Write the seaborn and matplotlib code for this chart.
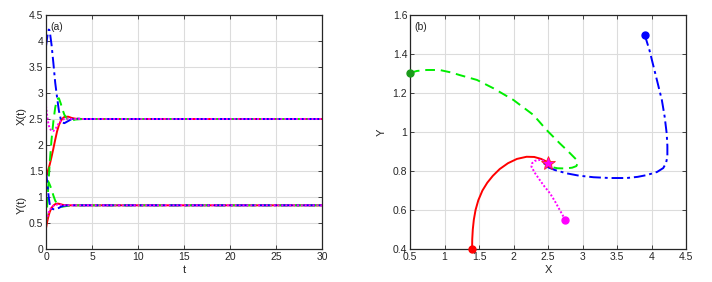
import numpy as np
import pandas as pd
import seaborn as sns
import matplotlib
matplotlib.use('Agg')
import matplotlib.pyplot as plt
import matplotlib.transforms as mtransforms

# ---------------- DATA ----------------
# time grid for panel (a)
t = [0, 0.1, 0.2, 0.3, 0.4, 0.6, 0.8, 1.0, 1.2, 1.4, 1.6, 1.8, 2.0, 2.4, 2.8, 3.2, 4, 6, 30]

# X(t) for the four initial conditions
x_red = [1.4, 1.43, 1.5, 1.56, 1.62, 1.77, 1.93, 2.1, 2.26, 2.38, 2.46, 2.51, 2.54, 2.545, 2.52, 2.505, 2.5, 2.5, 2.5]
x_green = [0.5, 0.75, 1.05, 1.35, 1.65, 2.1, 2.45, 2.72, 2.88, 2.9, 2.8, 2.68, 2.58, 2.48, 2.47, 2.49, 2.5, 2.5, 2.5]
x_blue = [3.9, 4.03, 4.15, 4.22, 4.2, 3.93, 3.58, 3.2, 2.92, 2.66, 2.5, 2.43, 2.42, 2.46, 2.5, 2.51, 2.5, 2.5, 2.5]
x_mag = [2.75, 2.6, 2.47, 2.38, 2.32, 2.27, 2.27, 2.3, 2.36, 2.42, 2.46, 2.49, 2.5, 2.51, 2.5, 2.5, 2.5, 2.5, 2.5]

# Y(t) for the four initial conditions
y_red = [0.4, 0.5, 0.58, 0.65, 0.71, 0.79, 0.835, 0.862, 0.873, 0.87, 0.86, 0.85, 0.845, 0.84, 0.84, 0.84, 0.84, 0.84, 0.84]
y_green = [1.3, 1.315, 1.31, 1.28, 1.24, 1.15, 1.03, 0.93, 0.87, 0.835, 0.818, 0.813, 0.82, 0.83, 0.838, 0.84, 0.84, 0.84, 0.84]
y_blue = [1.5, 1.33, 1.16, 0.99, 0.87, 0.78, 0.765, 0.765, 0.775, 0.79, 0.81, 0.825, 0.835, 0.84, 0.84, 0.84, 0.84, 0.84, 0.84]
y_mag = [0.55, 0.6, 0.655, 0.71, 0.75, 0.8, 0.83, 0.848, 0.855, 0.855, 0.85, 0.845, 0.842, 0.84, 0.84, 0.84, 0.84, 0.84, 0.84]

# phase trajectories for panel (b)
ph_red_x = [1.40, 1.402, 1.41, 1.425, 1.45, 1.49, 1.55, 1.62, 1.70, 1.80, 1.92, 2.05, 2.19, 2.30, 2.40, 2.47, 2.5]
ph_red_y = [0.40, 0.45, 0.50, 0.55, 0.60, 0.65, 0.70, 0.74, 0.775, 0.81, 0.84, 0.862, 0.873, 0.872, 0.862, 0.85, 0.84]
ph_green_x = [0.5, 0.6, 0.74, 0.93, 1.1, 1.22, 1.47, 1.71, 2.0, 2.29, 2.48, 2.67, 2.78, 2.87, 2.92, 2.93, 2.91, 2.85, 2.75, 2.64, 2.55, 2.5]
ph_green_y = [1.303, 1.313, 1.318, 1.318, 1.305, 1.292, 1.267, 1.224, 1.164, 1.087, 1.01, 0.942, 0.905, 0.873, 0.855, 0.839, 0.825, 0.817, 0.813, 0.814, 0.82, 0.84]
ph_blue_x = [3.9, 3.97, 4.03, 4.09, 4.15, 4.19, 4.22, 4.23, 4.23, 4.21, 4.17, 4.08, 3.93, 3.8, 3.64, 3.4, 3.16, 2.95, 2.77, 2.6, 2.48, 2.43, 2.46, 2.5]
ph_blue_y = [1.5, 1.42, 1.335, 1.25, 1.164, 1.08, 0.993, 0.93, 0.873, 0.84, 0.815, 0.795, 0.779, 0.77, 0.764, 0.764, 0.768, 0.776, 0.788, 0.805, 0.822, 0.833, 0.84, 0.84]
ph_mag_x = [2.75, 2.71, 2.67, 2.6, 2.53, 2.45, 2.38, 2.31, 2.26, 2.27, 2.31, 2.38, 2.45, 2.5]
ph_mag_y = [0.549, 0.575, 0.6, 0.645, 0.685, 0.72, 0.754, 0.79, 0.822, 0.84, 0.852, 0.857, 0.852, 0.84]

eq_x, eq_y = 2.5, 0.84

# ---------------- STYLE ----------------
sns.set_theme(style='whitegrid')
plt.rcParams['font.family'] = ['Liberation Sans', 'DejaVu Sans']

colors = {'red': '#ff0000', 'green': '#00ee00', 'blue': '#0000ff', 'mag': '#ff00ff'}
dashes = {'red': '-', 'green': (0, (5, 3)), 'blue': (0, (6, 2, 1.5, 2)), 'mag': (0, (1, 1))}

fig = plt.figure(figsize=(7.12, 2.82), dpi=100)
ax1 = fig.add_axes([46 / 712, 1 - 249 / 282, 276 / 712, 234 / 282])
ax2 = fig.add_axes([410 / 712, 1 - 249 / 282, 276 / 712, 234 / 282])


def style_axes(ax):
    ax.set_facecolor('white')
    ax.grid(True, color='#dcdcdc', linewidth=0.8)
    for s in ax.spines.values():
        s.set_color('#262626')
        s.set_linewidth(0.9)
    ax.tick_params(direction='in', length=3, width=0.6, top=True, right=True,
                   labelsize=7.5, colors='#262626', pad=2)
    ax.tick_params(axis='both', which='both', bottom=True, left=True)


# ---------------- PANEL (a) ----------------
series = [('red', x_red, y_red), ('green', x_green, y_green),
          ('blue', x_blue, y_blue), ('mag', x_mag, y_mag)]
for key, xs, ys in series:
    for vals in (xs, ys):
        sns.lineplot(x=t, y=vals, ax=ax1, color=colors[key], linestyle=dashes[key],
                     linewidth=1.4, estimator=None, sort=False)

ax1.set_xlim(0, 30)
ax1.set_ylim(0, 4.5)
ax1.set_xticks(np.arange(0, 31, 5))
ax1.set_yticks(np.arange(0, 4.51, 0.5))
ax1.set_yticklabels(['0', '0.5', '1', '1.5', '2', '2.5', '3', '3.5', '4', '4.5'])
ax1.set_xlabel('t', fontsize=8, labelpad=2)
ax1.set_ylabel('')
style_axes(ax1)
trans = mtransforms.blended_transform_factory(ax1.transAxes, ax1.transData)
ax1.text(-0.088, 2.55, 'X(t)', transform=trans, rotation=90, ha='center', va='center', fontsize=8)
ax1.text(-0.088, 0.85, 'Y(t)', transform=trans, rotation=90, ha='center', va='center', fontsize=8)
ax1.text(0.015, 0.97, '(a)', transform=ax1.transAxes, ha='left', va='top', fontsize=7.5)

# ---------------- PANEL (b) ----------------
phase = [('red', ph_red_x, ph_red_y), ('green', ph_green_x, ph_green_y),
         ('blue', ph_blue_x, ph_blue_y), ('mag', ph_mag_x, ph_mag_y)]
start_colors = {'red': '#ff0000', 'green': '#1a9a1a', 'blue': '#0000ff', 'mag': '#ff00ff'}
for key, xs, ys in phase:
    sns.lineplot(x=xs, y=ys, ax=ax2, color=colors[key], linestyle=dashes[key],
                 linewidth=1.4, estimator=None, sort=False)
    ax2.plot(xs[0], ys[0], 'o', color=start_colors[key], markersize=5, zorder=5, clip_on=False)

ax2.plot(eq_x, eq_y, marker='*', markersize=10, markerfacecolor='#ff00ff',
         markeredgecolor='#ff2020', markeredgewidth=0.6, linestyle='none', zorder=6)

ax2.set_xlim(0.5, 4.5)
ax2.set_ylim(0.4, 1.6)
ax2.set_xticks(np.arange(0.5, 4.51, 0.5))
ax2.set_xticklabels(['0.5', '1', '1.5', '2', '2.5', '3', '3.5', '4', '4.5'])
ax2.set_yticks(np.arange(0.4, 1.61, 0.2))
ax2.set_yticklabels(['0.4', '0.6', '0.8', '1', '1.2', '1.4', '1.6'])
ax2.set_xlabel('X', fontsize=8, labelpad=2)
ax2.set_ylabel('Y', fontsize=8, labelpad=4)
style_axes(ax2)
ax2.text(0.015, 0.97, '(b)', transform=ax2.transAxes, ha='left', va='top', fontsize=7.5)

fig.savefig('out.png', dpi=100)
